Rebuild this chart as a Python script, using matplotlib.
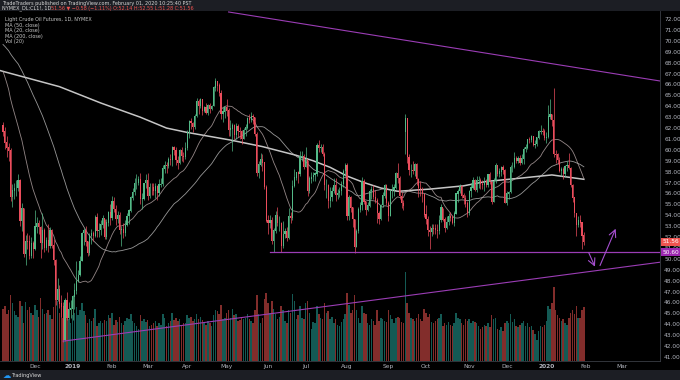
import numpy as np
import pandas as pd
import matplotlib
matplotlib.use("Agg")
import matplotlib.pyplot as plt
from matplotlib.patches import Rectangle

# ---- data (CL1! daily, 7 Nov 2018 .. 31 Jan 2020) ----
month_days = [17, 20, 21, 19, 21, 21, 22, 20, 22, 22, 20, 23, 20, 21, 21]
month_labels = ['Dec', '2019', 'Feb', 'Mar', 'Apr', 'May', 'Jun', 'Jul', 'Aug',
                'Sep', 'Oct', 'Nov', 'Dec', '2020', 'Feb', 'Mar']
feb_2020_days = 19

# closes before the first visible bar (only used for the 20/50 MAs)
pre_closes = [68.87, 68.53, 69.51, 70.25, 69.80,
              69.87, 68.72, 67.77, 67.75, 67.54, 69.25, 70.37, 68.59, 68.99, 68.91,
              69.85, 71.12, 70.80, 70.78, 72.08, 72.28, 71.57, 72.12, 73.25,
              75.30, 75.23, 76.41, 74.33, 74.34, 74.29, 74.96, 73.17, 70.97, 71.34,
              71.78, 72.92, 69.75, 68.65, 69.12, 69.17, 66.43, 66.82, 67.33, 67.59,
              67.04, 66.18, 65.31, 63.69, 63.14, 63.10, 62.21]

closes = [
    61.67, 60.67, 60.19, 59.93, 55.69, 56.25, 56.46, 56.46, 57.20, 53.43, 54.63, 50.42, 51.63, 51.56, 50.29, 51.45, 50.93,
    52.95, 53.25, 52.89, 51.49, 52.61, 51.00, 51.65, 51.15, 52.58, 51.20, 49.88, 46.24, 47.20, 45.88, 45.59, 42.53, 46.22, 44.61, 45.33, 45.41,
    46.54, 47.09, 47.96, 48.52, 49.78, 52.36, 52.59, 51.59, 50.51, 52.11, 52.31, 52.07, 53.80, 52.57, 52.62, 53.13, 53.69, 51.99, 53.31, 54.23, 53.79,
    55.26, 54.56, 53.66, 54.01, 52.64, 52.72, 52.41, 53.10, 53.90, 54.41, 55.59, 56.09, 56.92, 56.96, 57.26, 55.48, 55.50, 56.94, 57.22,
    55.80, 56.59, 56.56, 56.22, 56.66, 56.07, 56.79, 56.87, 58.26, 58.61, 58.52, 59.09, 59.03, 60.23, 59.98, 59.04, 58.82, 59.94, 59.41, 59.30, 60.14,
    61.59, 62.58, 62.46, 62.10, 63.08, 64.40, 64.01, 64.61, 63.58, 63.89, 63.40, 64.05, 63.76, 64.00, 65.70, 66.30, 65.89, 65.21, 63.30, 63.50, 63.91,
    63.60, 61.81, 61.94, 62.25, 61.40, 62.12, 61.70, 61.66, 61.04, 61.78, 62.02, 62.87, 62.76, 63.10, 62.99, 61.42, 57.91, 58.63, 59.14, 58.81, 56.59, 53.50,
    53.25, 53.48, 51.68, 52.59, 53.99, 53.26, 53.27, 51.14, 52.28, 52.51, 51.93, 53.90, 53.76, 56.65, 57.43, 57.90, 57.83, 59.38, 59.43, 58.47,
    59.09, 56.25, 57.34, 57.51, 57.66, 57.83, 60.43, 60.20, 60.21, 59.58, 56.78, 56.78, 55.30, 55.63, 56.22, 56.77, 55.88, 56.02, 56.20, 56.87, 58.05, 58.58,
    53.95, 55.66, 54.69, 53.63, 51.09, 52.54, 54.50, 54.93, 57.10, 55.23, 54.47, 54.87, 56.21, 56.34, 55.68, 55.35, 54.17, 53.64, 54.93, 55.78, 56.71, 55.10,
    53.94, 56.26, 56.30, 56.52, 57.85, 57.40, 55.75, 55.09, 54.85, 62.90, 59.34, 58.11, 58.13, 58.09, 58.64, 57.29, 56.49, 56.41, 55.91, 54.07,
    53.62, 52.64, 52.45, 52.81, 52.75, 52.63, 52.59, 53.55, 54.70, 53.59, 52.81, 53.36, 53.93, 53.78, 53.31, 54.16, 55.97, 56.23, 56.66, 55.81, 55.54, 55.06, 54.18,
    56.20, 56.54, 57.23, 56.35, 57.15, 57.24, 56.86, 56.80, 57.12, 56.77, 57.72, 57.05, 55.21, 57.11, 58.58, 57.77, 58.01, 58.41, 58.11, 55.17,
    55.96, 56.10, 58.43, 58.43, 59.20, 59.02, 59.24, 58.76, 59.18, 60.07, 60.21, 60.94, 60.93, 61.22, 60.44, 60.52, 61.11, 61.68, 61.72, 61.68, 61.06,
    61.18, 63.05, 63.27, 62.70, 59.61, 59.56, 59.04, 58.08, 58.23, 57.81, 58.52, 58.54, 58.34, 56.74, 55.59, 54.19, 53.14, 53.48, 53.33, 52.14, 51.56,
]

highs = [
    62.6, 62.1, 61.3, 60.6, 60.2, 56.9, 57.0, 57.2, 57.8, 57.3, 55.1, 54.7, 52.2, 52.4, 52.2, 52.0, 51.6,
    54.5, 53.8, 53.6, 53.0, 54.2, 52.8, 52.0, 53.2, 52.9, 52.7, 51.8, 50.0, 48.2, 47.6, 46.7, 46.0, 46.4, 47.0, 46.0, 46.2,
    46.7, 47.8, 49.8, 49.0, 50.3, 52.5, 52.8, 53.0, 51.6, 52.4, 52.7, 52.6, 54.0, 54.2, 53.3, 53.6, 54.0, 53.7, 53.7, 54.4, 55.0,
    55.8, 55.7, 54.9, 54.4, 54.3, 53.0, 53.3, 53.6, 54.2, 54.6, 55.8, 56.5, 57.4, 57.8, 57.6, 57.9, 56.0, 57.0, 57.8,
    57.9, 57.0, 57.0, 57.0, 57.0, 56.8, 57.3, 57.4, 58.6, 59.0, 58.9, 59.3, 59.6, 60.4, 60.4, 60.3, 59.4, 60.1, 60.3, 59.8, 60.7,
    61.8, 62.7, 62.9, 62.6, 63.3, 64.8, 64.7, 64.8, 64.6, 64.0, 64.3, 64.2, 64.3, 64.1, 65.9, 66.6, 66.3, 66.1, 65.5, 63.9, 64.0,
    64.7, 63.8, 62.7, 62.5, 62.4, 62.5, 62.4, 62.1, 61.8, 62.0, 62.4, 63.0, 63.3, 63.5, 63.3, 63.0, 61.6, 59.0, 59.7, 59.6, 58.9, 56.8,
    54.0, 54.0, 53.8, 52.8, 54.4, 54.8, 53.9, 53.4, 53.5, 52.8, 52.9, 54.7, 54.3, 57.2, 58.2, 58.0, 58.1, 59.9, 59.9, 59.6,
    60.3, 59.1, 57.6, 58.0, 58.0, 58.0, 60.6, 60.9, 60.5, 60.5, 59.8, 57.3, 56.9, 56.6, 56.6, 57.4, 57.4, 56.4, 56.6, 57.1, 58.2, 58.8,
    58.8, 55.9, 55.8, 54.8, 53.7, 52.7, 54.8, 55.2, 57.5, 57.3, 55.3, 55.2, 56.4, 56.7, 56.8, 56.3, 55.6, 54.4, 55.0, 56.1, 56.9, 56.9,
    55.3, 56.4, 56.9, 56.9, 58.0, 58.8, 57.6, 56.1, 55.4, 63.3, 62.3, 59.6, 58.7, 59.0, 58.8, 58.8, 57.4, 57.1, 56.6, 56.0,
    54.9, 53.9, 53.0, 53.2, 53.2, 53.2, 53.2, 54.0, 55.0, 54.7, 53.8, 53.9, 54.2, 54.3, 54.0, 54.4, 56.0, 56.4, 56.9, 56.8, 56.0, 55.9, 55.3,
    56.3, 57.0, 57.5, 57.3, 57.6, 57.6, 57.4, 57.2, 57.5, 57.3, 57.8, 58.0, 57.1, 57.4, 58.8, 58.6, 58.3, 58.5, 58.6, 58.2,
    56.2, 56.2, 58.6, 58.9, 59.8, 59.4, 59.4, 59.5, 59.6, 60.3, 60.5, 61.0, 61.2, 61.4, 61.3, 60.9, 61.2, 61.8, 62.3, 62.0, 61.9,
    61.6, 64.1, 64.7, 63.2, 65.7, 60.0, 59.7, 59.3, 58.4, 58.4, 58.6, 59.0, 59.7, 58.4, 56.9, 55.6, 53.8, 53.9, 54.0, 53.4, 52.5,
]

lows = [
    61.3, 60.1, 59.3, 59.0, 55.3, 54.8, 55.5, 55.8, 56.2, 53.0, 52.6, 50.2, 49.4, 50.9, 50.0, 50.1, 50.1,
    50.8, 52.4, 52.3, 50.1, 50.9, 50.6, 50.8, 50.6, 51.0, 51.0, 49.4, 45.8, 46.1, 45.5, 44.7, 42.4, 42.5, 44.4, 44.5, 44.6,
    44.4, 45.4, 46.8, 47.9, 48.4, 49.8, 51.3, 51.2, 50.3, 50.4, 51.4, 51.6, 52.0, 52.0, 52.0, 52.2, 52.8, 51.8, 51.8, 53.0, 53.1,
    53.6, 54.3, 53.1, 53.3, 52.3, 51.2, 51.9, 52.1, 53.0, 53.2, 54.3, 55.4, 55.9, 56.4, 56.8, 55.0, 54.6, 55.4, 56.5,
    55.4, 55.6, 55.9, 55.9, 55.6, 55.4, 55.8, 56.6, 56.7, 57.9, 57.9, 58.3, 58.6, 58.5, 59.5, 58.6, 58.2, 58.7, 59.0, 58.9, 59.2,
    60.0, 61.1, 61.9, 61.6, 61.9, 63.0, 63.3, 63.8, 63.2, 63.5, 63.3, 63.2, 63.4, 63.7, 64.0, 65.4, 65.4, 64.9, 62.8, 62.6, 62.9,
    63.1, 61.3, 61.3, 59.9, 61.0, 61.0, 61.2, 61.0, 60.5, 61.0, 61.3, 61.9, 62.5, 62.6, 62.4, 61.3, 57.6, 57.4, 58.5, 58.1, 56.4, 53.4,
    52.3, 52.8, 51.4, 50.6, 52.4, 53.0, 52.6, 50.6, 51.0, 51.9, 51.6, 51.8, 53.3, 53.6, 56.6, 57.2, 57.0, 57.6, 59.0, 58.2,
    58.4, 55.8, 56.0, 57.0, 57.1, 57.1, 57.6, 59.8, 59.8, 59.4, 56.3, 55.6, 54.7, 54.8, 55.3, 56.0, 55.3, 55.5, 55.7, 55.9, 56.6, 57.6,
    53.6, 53.6, 54.3, 52.9, 50.5, 51.1, 52.4, 54.3, 54.5, 55.0, 54.0, 54.4, 54.8, 55.5, 55.5, 55.1, 53.3, 53.2, 53.6, 54.8, 55.6, 54.9,
    53.5, 54.0, 55.6, 55.8, 56.4, 57.0, 55.5, 54.7, 54.5, 59.6, 58.8, 57.7, 57.5, 57.8, 57.6, 56.8, 55.7, 55.8, 55.2, 53.8,
    53.2, 52.1, 50.9, 52.1, 52.3, 52.3, 51.9, 52.3, 53.4, 53.5, 52.5, 52.7, 53.1, 53.5, 53.2, 53.0, 54.1, 55.2, 56.0, 55.6, 55.0, 54.8, 53.8,
    54.0, 55.7, 56.4, 56.2, 56.1, 56.5, 56.4, 56.4, 56.2, 56.6, 56.6, 56.9, 55.0, 55.2, 57.0, 57.6, 57.5, 57.6, 57.8, 55.1,
    54.9, 55.5, 56.0, 58.0, 58.3, 58.8, 58.8, 58.6, 58.7, 58.7, 59.8, 60.1, 60.6, 60.7, 60.4, 60.2, 60.4, 61.0, 61.5, 61.4, 60.9,
    60.6, 61.1, 62.8, 62.2, 59.3, 58.8, 58.7, 58.0, 57.6, 57.3, 57.5, 58.1, 58.2, 56.6, 55.2, 53.8, 52.1, 52.9, 52.9, 50.9, 51.3,
]

# opens follow the previous close, except where the bar gapped
gap_opens = {214: 61.6}

volumes = [  # thousands of contracts
    780, 820, 700, 760, 980, 860, 740, 690, 650, 900, 820, 560, 880, 760, 810, 720, 690,
    830, 760, 650, 940, 780, 700, 720, 760, 690, 620, 810, 990, 900, 720, 860, 640, 890, 750, 620, 560,
    680, 720, 800, 690, 760, 870, 740, 680, 560, 620, 590, 640, 780, 520, 570, 590, 560, 610, 590, 680, 640,
    720, 540, 610, 580, 660, 560, 540, 590, 640, 620, 700, 590, 560, 520, 470, 690, 600, 620, 580,
    610, 520, 540, 560, 590, 520, 560, 540, 700, 640, 520, 560, 590, 720, 610, 640, 590, 620, 540, 570, 560,
    680, 640, 650, 600, 620, 700, 630, 650, 610, 560, 540, 590, 560, 520, 690, 760, 740, 700, 830, 620, 640,
    720, 760, 640, 780, 680, 700, 600, 610, 660, 620, 640, 700, 620, 600, 560, 760, 990, 700, 560, 640, 920, 1020,
    860, 720, 900, 780, 700, 620, 650, 820, 760, 600, 560, 760, 720, 1000, 900, 620, 680, 820, 640, 620,
    860, 900, 720, 480, 580, 560, 820, 700, 640, 620, 860, 720, 740, 620, 650, 560, 620, 540, 520, 580, 620, 700,
    1020, 840, 720, 760, 990, 760, 640, 560, 820, 720, 700, 560, 540, 620, 600, 540, 760, 590, 640, 620, 600, 580,
    760, 680, 620, 560, 640, 660, 640, 580, 560, 1320, 860, 720, 640, 620, 600, 640, 700, 620, 600, 780,
    720, 660, 700, 580, 560, 600, 620, 640, 700, 520, 560, 540, 580, 540, 520, 560, 720, 640, 620, 560, 540, 620, 600,
    620, 560, 600, 580, 560, 520, 480, 500, 540, 520, 560, 500, 680, 620, 640, 480, 460, 500, 440, 560,
    600, 560, 700, 580, 620, 520, 500, 540, 560, 600, 520, 560, 500, 520, 460, 400, 320, 440, 520, 500, 540,
    600, 820, 780, 860, 1100, 760, 680, 640, 600, 620, 560, 540, 640, 720, 760, 700, 820, 640, 640, 760, 800,
]

# 200-day MA (bar index, price)
ma200_idx = [-2, 0, 15, 30, 52, 73, 87, 98, 121, 138, 156, 165, 174, 183, 192, 201, 210, 227, 245, 257, 275, 292, 309]
ma200_val = [67.3, 67.2, 66.5, 65.8, 64.3, 63.0, 62.0, 61.6, 60.9, 60.3, 59.5, 59.0, 58.4, 57.6, 57.0, 56.5, 56.2, 56.4, 56.7, 57.1, 57.4, 57.7, 57.3]

# drawings
upper_line = ([120, 352], [72.65, 66.25])
lower_line = ([32, 352], [42.45, 49.75])
support_level = 50.60
support_start = 142
arrow_down = ((311, 50.8), (315.5, 49.05))
arrow_up = ((317, 49.15), (326.5, 53.0))
last_price = 51.56

n = len(closes)
assert n == sum(month_days) == len(highs) == len(lows) == len(volumes)

# ---- derived ----
idx = np.arange(n)
opens = [pre_closes[-1]] + closes[:-1]
for k, v in gap_opens.items():
    opens[k] = v
o = np.array(opens)
c = np.array(closes)
h = np.maximum(np.array(highs), np.maximum(o, c))
l = np.minimum(np.array(lows), np.minimum(o, c))
up = c >= o

allc = pd.Series(pre_closes + closes)
ma20 = allc.rolling(20).mean().values[len(pre_closes):]
ma50 = allc.rolling(50).mean().values[len(pre_closes):]

month_pos = list(np.cumsum([0] + month_days)[1:])
month_pos.append(month_pos[-1] + feb_2020_days)

# ---- figure ----
W, H = 680, 380
fig = plt.figure(figsize=(W / 100, H / 100), dpi=100)
fig.patch.set_facecolor('#1c1e24')
fig.add_artist(Rectangle((0, 10 / H), 1, (H - 21) / H, transform=fig.transFigure,
                         facecolor='black', edgecolor='none', zorder=0))

ax_rect = [0, 19 / H, 660 / W, 350 / H]
vax = fig.add_axes(ax_rect)
ax = fig.add_axes(ax_rect, sharex=vax)
vax.set_facecolor('black')
ax.patch.set_visible(False)

up_col, dn_col = '#53b987', '#eb4d5c'

# volume
vcol = np.where(up, '#26a69a', '#ef5350')
vax.bar(idx, volumes, width=0.78, color=vcol, alpha=0.55, linewidth=0)
vax.set_ylim(0, max(volumes) * 3.95)
vax.axis('off')

# moving averages
ax.plot(ma200_idx, ma200_val, color='#dcdcdc', lw=1.1, alpha=0.9, zorder=2)
ax.plot(idx, ma50, color='#bdbdbd', lw=0.6, alpha=0.8, zorder=2)
ax.plot(idx, ma20, color='#b8a8a8', lw=0.6, alpha=0.8, zorder=2)

# candles
cols = np.where(up, up_col, dn_col)
ax.vlines(idx, l, h, colors=cols, lw=0.5, zorder=3)
ax.bar(idx, np.abs(c - o) + 0.04, bottom=np.minimum(o, c), width=0.62,
       color=cols, linewidth=0, zorder=4)

# drawings
purple = '#9b3db5'
ax.plot(*upper_line, color=purple, lw=0.8, zorder=5)
ax.plot(*lower_line, color=purple, lw=0.8, zorder=5)
ax.plot([support_start, 352], [support_level, support_level], color=purple, lw=0.9, zorder=5)
for (p0, p1) in (arrow_down, arrow_up):
    ax.annotate('', xy=p1, xytext=p0,
                arrowprops=dict(arrowstyle='->,head_length=0.5,head_width=0.25',
                                color='#a64fd0', lw=0.8), zorder=6)

ax.set_xlim(-1.6, 349.5)
ax.set_ylim(40.63, 72.74)

# axes styling
ax.yaxis.tick_right()
ax.set_yticks(np.arange(41, 73, 1))
ax.yaxis.set_major_formatter(matplotlib.ticker.FormatStrFormatter('%.2f'))
ax.tick_params(axis='y', length=0, pad=3, labelsize=4.2, labelcolor='#b2b5be')
ax.set_xticks(month_pos)
ax.set_xticklabels(month_labels)
ax.tick_params(axis='x', length=0, pad=2.5, labelsize=4.2, labelcolor='#b2b5be')
for lab in ax.get_xticklabels():
    if lab.get_text() in ('2019', '2020'):
        lab.set_fontweight('bold')
for s in ('top', 'left'):
    ax.spines[s].set_visible(False)
for s in ('right', 'bottom'):
    ax.spines[s].set_color('#3a3d45')
    ax.spines[s].set_linewidth(0.6)

# price labels on the axis
tr = matplotlib.transforms.blended_transform_factory(ax.transAxes, ax.transData)
ax.text(1.004, last_price, '%.2f' % last_price, transform=tr, fontsize=4.2, color='white',
        va='center', ha='left', clip_on=False, zorder=10,
        bbox=dict(boxstyle='square,pad=0.25', facecolor='#ef5350', edgecolor='none'))
ax.text(1.004, support_level, '%.2f' % support_level, transform=tr, fontsize=4.2, color='white',
        va='center', ha='left', clip_on=False, zorder=10,
        bbox=dict(boxstyle='square,pad=0.25', facecolor='#9c27b0', edgecolor='none'))

# legend lines
legend = ['Light Crude Oil Futures, 1D, NYMEX', 'MA (50, close)', 'MA (20, close)',
          'MA (200, close)', 'Vol (20)']
for i, t in enumerate(legend):
    fig.text(5 / W, 1 - (19.5 + i * 5.6) / H, t, fontsize=3.5, color='#c8c8c8', va='center')

# header and footer
fig.text(2 / W, 1 - 3.5 / H, 'TradeTraders published on TradingView.com, February 01, 2020 10:25:40 PST',
         fontsize=3.5, color='#d8d8d8', va='center')
fig.text(2 / W, 1 - 8.5 / H, 'NYMEX_DL:CL1!, 1D', fontsize=3.5, color='#d8d8d8', va='center')
fig.text(51 / W, 1 - 8.5 / H, '51.56 \u25bc \u22120.58 (\u22121.11%) O:52.14 H:52.55 L:51.28 C:51.56',
         fontsize=3.5, color='#ef5350', va='center')
fig.text(3 / W, 5 / H, '\u2601', fontsize=6, color='#2196f3', va='center')
fig.text(11 / W, 5 / H, 'TradingView', fontsize=3.6, color='#d8d8d8', va='center')

fig.savefig('out.png', dpi=100, facecolor=fig.get_facecolor())
